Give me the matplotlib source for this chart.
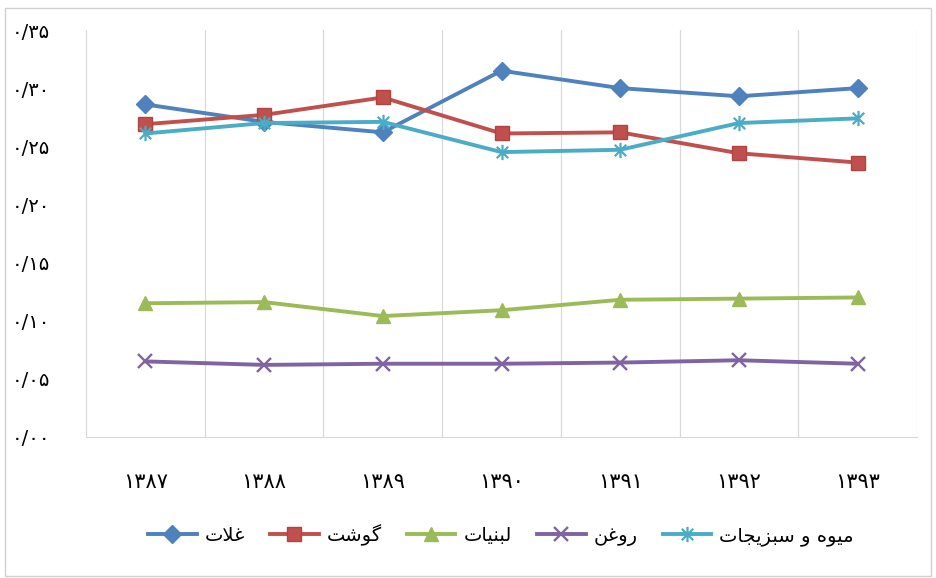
import matplotlib
matplotlib.use("Agg")
import matplotlib.pyplot as plt
from matplotlib.path import Path
from matplotlib.patches import Rectangle

# ---------------- data ----------------
years = ["۱۳۸۷", "۱۳۸۸", "۱۳۸۹", "۱۳۹۰", "۱۳۹۱", "۱۳۹۲", "۱۳۹۳"]
series_names = ["غلات", "گوشت", "لبنیات", "روغن", "میوه و سبزیجات"]
cereals = [0.286, 0.271, 0.262, 0.315, 0.300, 0.293, 0.300]
meat = [0.269, 0.277, 0.292, 0.261, 0.262, 0.244, 0.236]
dairy = [0.115, 0.116, 0.104, 0.109, 0.118, 0.119, 0.120]
oil = [0.065, 0.062, 0.063, 0.063, 0.064, 0.066, 0.063]
fruit_veg = [0.261, 0.270, 0.271, 0.245, 0.247, 0.270, 0.274]
y_ticks = [0.0, 0.05, 0.10, 0.15, 0.20, 0.25, 0.30, 0.35]
y_tick_labels = ["۰/۰۰", "۰/۰۵", "۰/۱۰", "۰/۱۵", "۰/۲۰", "۰/۲۵", "۰/۳۰", "۰/۳۵"]

# ------------- minimal Arabic-script shaping (matplotlib has none) -------------
FORMS = {  # isolated, final, initial, medial
    'ا': ('\uFE8D', '\uFE8E', None, None),
    'ب': ('\uFE8F', '\uFE90', '\uFE91', '\uFE92'),
    'ت': ('\uFE95', '\uFE96', '\uFE97', '\uFE98'),
    'ج': ('\uFE9D', '\uFE9E', '\uFE9F', '\uFEA0'),
    'ر': ('\uFEAD', '\uFEAE', None, None),
    'ز': ('\uFEAF', '\uFEB0', None, None),
    'س': ('\uFEB1', '\uFEB2', '\uFEB3', '\uFEB4'),
    'ش': ('\uFEB5', '\uFEB6', '\uFEB7', '\uFEB8'),
    'غ': ('\uFECD', '\uFECE', '\uFECF', '\uFED0'),
    'ل': ('\uFEDD', '\uFEDE', '\uFEDF', '\uFEE0'),
    'م': ('\uFEE1', '\uFEE2', '\uFEE3', '\uFEE4'),
    'ن': ('\uFEE5', '\uFEE6', '\uFEE7', '\uFEE8'),
    'ه': ('\uFEE9', '\uFEEA', '\uFEEB', '\uFEEC'),
    'و': ('\uFEED', '\uFEEE', None, None),
    'ی': ('\uFBFC', '\uFBFD', '\uFBFE', '\uFBFF'),
    'گ': ('\uFB92', '\uFB93', '\uFB94', '\uFB95'),
    'لا': ('\uFEFB', '\uFEFC', None, None),
}


def shape(text):
    units = []
    i = 0
    while i < len(text):
        if text[i] == 'ل' and i + 1 < len(text) and text[i + 1] == 'ا':
            units.append('لا')
            i += 2
        else:
            units.append(text[i])
            i += 1
    out = []
    for k, u in enumerate(units):
        if u not in FORMS:
            out.append(u)
            continue
        prev = units[k - 1] if k > 0 else None
        nxt = units[k + 1] if k + 1 < len(units) else None
        join_prev = prev in FORMS and FORMS[prev][2] is not None
        join_next = nxt in FORMS and FORMS[u][2] is not None
        f = FORMS[u]
        if join_prev and join_next:
            out.append(f[3])
        elif join_prev:
            out.append(f[1])
        elif join_next:
            out.append(f[2])
        else:
            out.append(f[0])
    return ''.join(reversed(out))


# ---------------- figure ----------------
plt.rcParams['font.family'] = ['DejaVu Sans']
fig = plt.figure(figsize=(9.36, 5.78), dpi=100)
fig.patch.set_facecolor('white')
fig.add_artist(Rectangle((5 / 936, 2 / 578), 926 / 936, 568 / 578, transform=fig.transFigure,
                         fill=False, edgecolor='#d0d0d0', linewidth=1.0))

ax = fig.add_axes([86 / 936, 1 - 437 / 578, 831 / 936, 407 / 578])
x = list(range(len(years)))

star = Path([(0, -1), (0, 1), (-0.75, -0.75), (0.75, 0.75), (-0.75, 0.75), (0.75, -0.75)],
            [Path.MOVETO, Path.LINETO, Path.MOVETO, Path.LINETO, Path.MOVETO, Path.LINETO])

styles = [
    (cereals, '#4F81BD', dict(marker='D', markersize=9, markerfacecolor='#4F81BD', markeredgecolor='#4F81BD')),
    (meat, '#C0504D', dict(marker='s', markersize=10, markerfacecolor='#C0504D', markeredgecolor='#B04440')),
    (dairy, '#9BBB59', dict(marker='^', markersize=10, markerfacecolor='#9BBB59', markeredgecolor='#9BBB59')),
    (oil, '#8064A2', dict(marker='x', markersize=10, markeredgewidth=1.7, markeredgecolor='#8064A2')),
    (fruit_veg, '#4BACC6', dict(marker=star, markersize=11, markeredgewidth=1.6,
                                markeredgecolor='#4BACC6', markerfacecolor='none')),
]
for (vals, color, mk), name in zip(styles, series_names):
    ax.plot(x, vals, color=color, linewidth=2.8, label=shape(name), **mk, zorder=3)

ax.set_xlim(-0.5, len(years) - 0.5)
ax.set_ylim(0, 0.35)
ax.set_yticks(y_ticks)
ax.set_yticklabels(y_tick_labels, fontsize=14)
ax.set_xticks(x)
ax.set_xticklabels(years, fontsize=15)
ax.tick_params(axis='both', length=0)
ax.tick_params(axis='y', pad=26)
ax.tick_params(axis='x', pad=25)

for b in [i + 0.5 for i in range(len(years))]:
    ax.axvline(b, color='#d9d9d9', linewidth=0.9, zorder=0)

for s in ['top', 'right']:
    ax.spines[s].set_visible(False)
ax.spines['left'].set_color('#d9d9d9')
ax.spines['bottom'].set_color('#d9d9d9')

leg = fig.legend(loc='center', bbox_to_anchor=(0.535, 1 - 535 / 578), ncol=5, frameon=False,
                 fontsize=14, handlelength=2.5, columnspacing=1.3, handletextpad=0.4)

fig.savefig('out.png', dpi=100)
